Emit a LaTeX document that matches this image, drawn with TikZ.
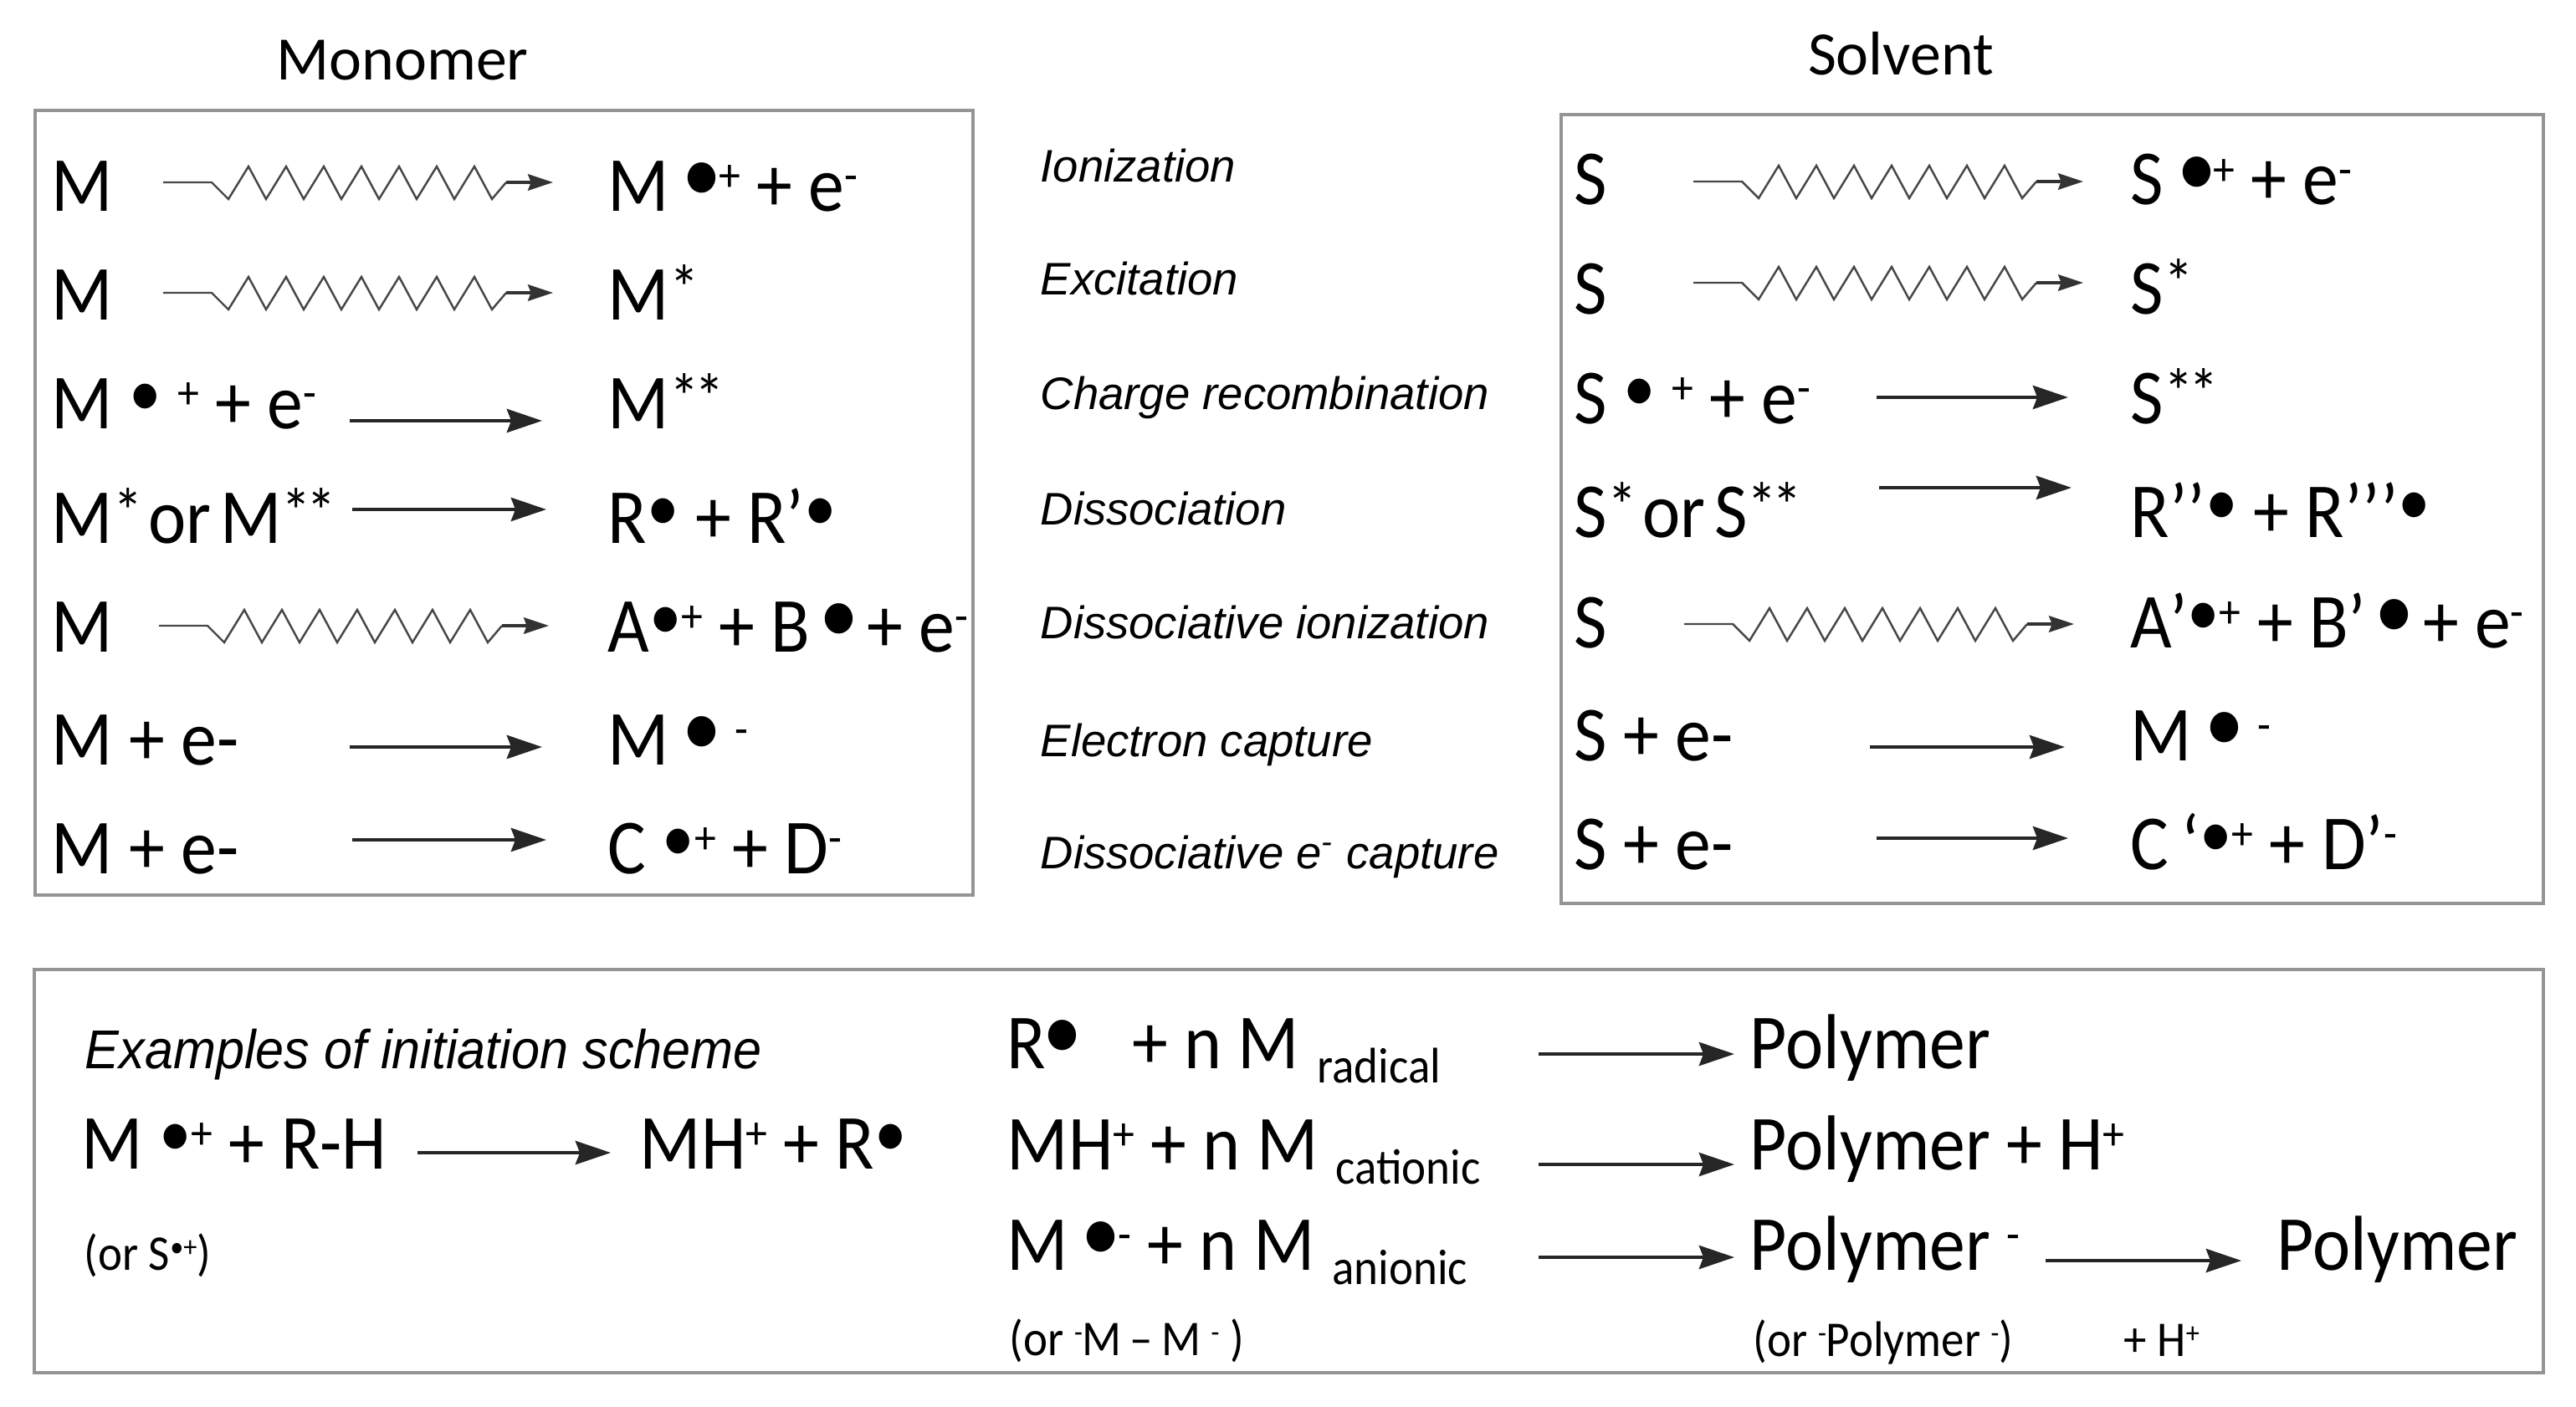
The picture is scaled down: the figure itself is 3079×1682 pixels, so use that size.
\documentclass[tikz,border=0pt]{standalone}
\usepackage{fontspec}
\usepackage{graphicx}
\usetikzlibrary{arrows.meta}
\setmainfont{Carlito}
\newfontfamily\chemf[FakeStretch=0.92]{Carlito}
\newfontfamily\labf{Liberation Sans}
\newfontfamily\labnf[FakeStretch=0.935]{Liberation Sans}
\newcommand\szm{\fontsize{26.5}{30}\selectfont}
\newcommand\sps[1]{\raisebox{6.8pt}{\fontsize{16}{16}\selectfont #1}}
\newcommand\sst[1]{\raisebox{3pt}{\fontsize{22}{22}\selectfont #1}}
\newcommand\sbs[1]{\raisebox{-5pt}{\fontsize{17}{17}\selectfont #1}}
\newcommand\spss[1]{\raisebox{4.4pt}{\fontsize{10}{10}\selectfont #1}}
\newcommand\bdot{\hspace{-1pt}\raisebox{3pt}{\scalebox{1.1}{•}}\hspace{-1pt}}
\newcommand\mdot{\raisebox{4pt}{\scalebox{0.9}{•}}}
\begin{document}
\begin{tikzpicture}[x=0.01cm,y=-0.01cm,
 txt/.style={inner sep=0pt, anchor=base west, font=\chemf\szm},
 lbl/.style={inner sep=0pt, anchor=base west, font=\labf\itshape\fontsize{15.5}{18}\selectfont},
 exl/.style={inner sep=0pt, anchor=base west, font=\labnf\itshape\fontsize{18.6}{22}\selectfont},
 ttl/.style={inner sep=0pt, anchor=base, font=\fontsize{21}{24}\selectfont},
 small/.style={inner sep=0pt, anchor=base west, font=\chemf\fontsize{17}{20}\selectfont},
 frame/.style={draw=black!42, line width=1.2pt},
 rxn/.style={draw=black!85, line width=1.15pt, -{Stealth[length=12pt,width=8pt,inset=1.5pt]}},
 wv/.style={draw=black!72, line width=0.7pt},
 wvend/.style={draw=black!80, line width=1pt, -{Stealth[length=8.5pt,width=5.5pt,inset=1pt]}},
 wavy/.pic={
   \draw[wv] (0,0) -- (58,0) -- (78,20) -- (102,-19) -- (123,20) -- (147,-19) -- (168,20) -- (192,-19) -- (213,20) -- (237,-19) -- (258,20) -- (282,-19) -- (303,20) -- (327,-19) -- (348,20) -- (372,-19) -- (393,20) -- (410,0);
   \draw[wvend] (410,0) -- (466,0);
 }]
\useasboundingbox (0,0) rectangle (3079,1682);
% frames
\draw[frame] (42,132) rectangle (1163,1070);
\draw[frame] (1866,137) rectangle (3040,1080);
\draw[frame] (41,1159) rectangle (3040,1641);
% titles
\node[ttl] (tM) at (481,96) {Monomer};
\node[ttl] (tS) at (2272,90) {Solvent};
% ---- Monomer box
\node[txt] (l1) at (61,252) {M};
\node[txt] (p1) at (726,252) {M \bdot\sps{+} + e\sps{-}};
\coordinate (w1) at (195,218); \pic at (w1) {wavy};
\node[txt] (l2) at (61,382) {M};
\node[txt] (p2) at (726,382) {M\sst{*}};
\coordinate (w2) at (195,350); \pic at (w2) {wavy};
\node[txt] (l3) at (61,512) {M \mdot\ \sps{+} + e\sps{-}};
\node[txt] (p3) at (726,512) {M\sst{*\hspace{-1.5pt}*}};
\coordinate (a3s) at (418,503); \coordinate (a3e) at (648,503);
\draw[rxn] (a3s) -- (a3e);
\node[txt] (l4) at (61,649) {M\sst{*}\hspace{2pt}or\hspace{3pt}M\sst{*\hspace{-1.5pt}*}};
\node[txt] (p4) at (726,649) {R\mdot{} + R’\mdot};
\coordinate (a4s) at (421,609); \coordinate (a4e) at (653,609);
\draw[rxn] (a4s) -- (a4e);
\node[txt] (l5) at (61,779) {M};
\node[txt] (p5) at (726,779) {A\mdot\sps{+} + B\hspace{4pt}\bdot\hspace{4pt}+ e\sps{-}};
\coordinate (w5) at (190,748); \pic at (w5) {wavy};
\node[txt] (l6) at (61,914) {M + e-};
\node[txt] (p6) at (726,914) {M \bdot{} \sps{-}};
\coordinate (a6s) at (418,893); \coordinate (a6e) at (648,893);
\draw[rxn] (a6s) -- (a6e);
\node[txt] (l7) at (61,1044) {M + e-};
\node[txt] (p7) at (726,1044) {C \mdot\sps{+} + D\sps{-}};
\coordinate (a7s) at (421,1004); \coordinate (a7e) at (653,1004);
\draw[rxn] (a7s) -- (a7e);
% ---- middle labels
\node[lbl] (m1) at (1243,218) {Ionization};
\node[lbl] (m2) at (1243,352) {Excitation};
\node[lbl] (m3) at (1243,489) {Charge recombination};
\node[lbl] (m4) at (1243,627) {Dissociation};
\node[lbl] (m5) at (1243,763) {Dissociative ionization};
\node[lbl] (m6) at (1243,904) {Electron capture};
\node[lbl] (m7) at (1243,1038) {Dissociative e\textsuperscript{-} capture};
% ---- Solvent box
\node[txt] (r1) at (1881,245) {S};
\node[txt] (q1) at (2546,245) {S \bdot\sps{+} + e\sps{-}};
\coordinate (v1) at (2024,217); \pic at (v1) {wavy};
\node[txt] (r2) at (1881,375) {S};
\node[txt] (q2) at (2546,375) {S\sst{*}};
\coordinate (v2) at (2024,338); \pic at (v2) {wavy};
\node[txt] (r3) at (1881,506) {S \mdot\ \sps{+} + e\sps{-}};
\node[txt] (q3) at (2546,506) {S\sst{*\hspace{-1.5pt}*}};
\coordinate (b3s) at (2243,475); \coordinate (b3e) at (2472,475);
\draw[rxn] (b3s) -- (b3e);
\node[txt] (r4) at (1881,642) {S\sst{*}\hspace{2pt}or\hspace{3pt}S\sst{*\hspace{-1.5pt}*}};
\node[txt] (q4) at (2546,642) {R’’\mdot{} + R’’’\mdot};
\coordinate (b4s) at (2246,583); \coordinate (b4e) at (2476,583);
\draw[rxn] (b4s) -- (b4e);
\node[txt] (r5) at (1881,774) {S};
\node[txt] (q5) at (2546,774) {A’\mdot\sps{+} + B’\hspace{4pt}\bdot\hspace{4pt}+ e\sps{-}};
\coordinate (v5) at (2013,746); \pic at (v5) {wavy};
\node[txt] (r6) at (1881,909) {S + e-};
\node[txt] (q6) at (2546,909) {M \bdot{} \sps{-}};
\coordinate (b6s) at (2235,893); \coordinate (b6e) at (2468,893);
\draw[rxn] (b6s) -- (b6e);
\node[txt] (r7) at (1881,1039) {S + e-};
\node[txt] (q7) at (2546,1039) {C\,‘\mdot\sps{+} + D’\sps{-}};
\coordinate (b7s) at (2243,1002); \coordinate (b7e) at (2472,1002);
\draw[rxn] (b7s) -- (b7e);
% ---- bottom box
\node[exl] (ex) at (101,1277) {Examples of initiation scheme};
\node[txt] (i1) at (97,1397) {M \mdot\sps{+} + R-H};
\node[txt] (i1p) at (764,1397) {MH\sps{+} + R\mdot};
\coordinate (c0s) at (499,1378); \coordinate (c0e) at (730,1378);
\draw[rxn] (c0s) -- (c0e);
\node[small] (i1n) at (100,1518) {(or S\spss{•+})};
\node[txt] (c1) at (1203,1277) {R\bdot\hspace{18pt}+ n M\hspace{6pt}\sbs{radical}};
\node[txt] (c1p) at (2091,1277) {Polymer};
\coordinate (c1s) at (1839,1260); \coordinate (c1e) at (2073,1260);
\draw[rxn] (c1s) -- (c1e);
\node[txt] (c2) at (1203,1398) {MH\sps{+} + n M\hspace{6pt}\sbs{cationic}};
\node[txt] (c2p) at (2091,1398) {Polymer + H\sps{+}};
\coordinate (c2s) at (1839,1392); \coordinate (c2e) at (2073,1392);
\draw[rxn] (c2s) -- (c2e);
\node[txt] (c3) at (1203,1518) {M \bdot\sps{-} + n M\hspace{6pt}\sbs{anionic}};
\node[txt] (c3p) at (2091,1518) {Polymer \sps{-}};
\coordinate (c3s) at (1839,1503); \coordinate (c3e) at (2073,1503);
\draw[rxn] (c3s) -- (c3e);
\node[txt] (c3q) at (2721,1518) {Polymer};
\coordinate (d3s) at (2445,1507); \coordinate (d3e) at (2679,1507);
\draw[rxn] (d3s) -- (d3e);
\node[small] (c4) at (1206,1620) {(or \spss{-}M\,–\,M \spss{-} )};
\node[small] (c4p) at (2095,1621) {(or \spss{-}Polymer \spss{-})};
\node[small] (c4h) at (2538,1621) {+ H\spss{+}};
\end{tikzpicture}
\end{document}
